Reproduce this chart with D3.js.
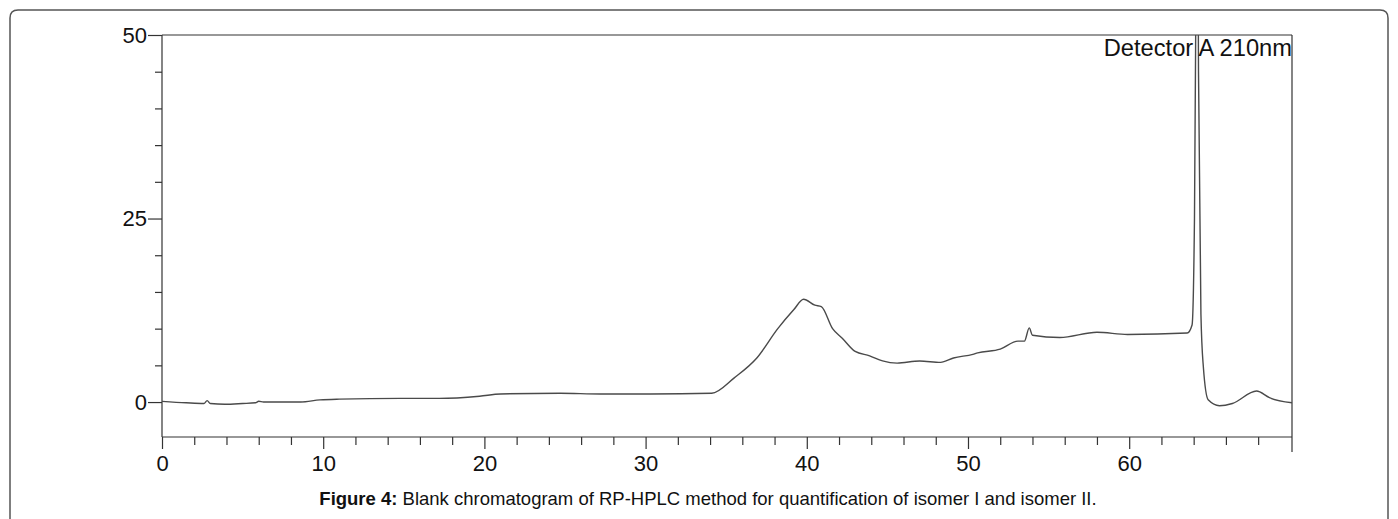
<!DOCTYPE html>
<html>
<head>
  <meta charset="utf-8">
  <title>Blank chromatogram</title>
  <script src="https://d3js.org/d3.v7.min.js"></script>
  <style>
    body {
      margin: 0;
      padding: 0;
      background: #fff;
      font-family: Arial, "Liberation Sans", sans-serif;
    }
    .tick-label {
      font-size: 22px;
      fill: #111;
    }
  </style>
</head>
<body>
<svg id="chart" width="1398" height="519"></svg>
<script>

// retention time (min) and detector signal (mAU)
var retentionTime = [0, 1.5, 2.6, 2.8, 3.0, 3.9, 5.0, 5.8, 6.0, 6.3, 8.6, 9.8, 11, 14.8, 17.2,
  19.7, 21, 24.7, 27.2, 30.3, 34.1, 35.5, 36.9, 38.2, 39.2, 39.8, 40.5, 40.9, 41.6, 42.2, 43.0, 43.9,
  44.7, 45.6, 47.0, 48.3, 49.1, 50.3, 50.6, 52, 53.1, 53.5, 53.8, 54.0, 55.7, 58.0, 59.9, 63.6,
  63.9, 64.05, 64.15, 64.22, 64.3, 64.45, 64.6, 64.9, 65.6, 66.4, 67.9, 68.7, 70.1];
var absorbance = [0.1, -0.1, -0.2, 0.2, -0.2, -0.3, -0.2, -0.1, 0.1, 0.0, 0.0, 0.3, 0.4, 0.5, 0.5,
  0.8, 1.1, 1.2, 1.1, 1.1, 1.2, 3.3, 6.0, 10.0, 12.6, 14.0, 13.2, 13.0, 10.0, 8.7, 6.9, 6.3,
  5.6, 5.3, 5.6, 5.4, 6.0, 6.5, 6.7, 7.2, 8.3, 8.3, 10.1, 9.1, 8.8, 9.5, 9.2, 9.4,
  10.5, 25, 60, 85, 45, 12, 4.8, 0.3, -0.5, -0.2, 1.5, 0.6, -0.1];

var yMajorTicks = [0, 25, 50];
var yMinorTicks = [5, 10, 15, 20, 30, 35, 40, 45];
var xMajorTicks = [0, 10, 20, 30, 40, 50, 60];
var detectorLabel = "Detector A 210nm";

var svg = d3.select("#chart");

var plotLeft = 162, plotRight = 1292, plotTop = 35, plotBottom = 437;

var x = d3.scaleLinear().domain([0, 70.1]).range([plotLeft, plotRight]);
var y = d3.scaleLinear().domain([-4.76, 50]).range([plotBottom, plotTop]);

// outer rounded frame
svg.append("path")
  .attr("d", "M10,519 L10,18 Q10,10 18,10 L1380,10 Q1388,10 1388,18 L1388,519")
  .attr("fill", "none")
  .attr("stroke", "#555")
  .attr("stroke-width", 1.5);

// top border and right border
svg.append("line")
  .attr("x1", plotLeft).attr("x2", plotRight)
  .attr("y1", plotTop).attr("y2", plotTop)
  .attr("stroke", "#333").attr("stroke-width", 1.2);
svg.append("line")
  .attr("x1", plotRight).attr("x2", plotRight)
  .attr("y1", plotTop).attr("y2", 452)
  .attr("stroke", "#333").attr("stroke-width", 1.2);

// y axis: major and minor ticks
var yAxis = d3.axisLeft(y).tickValues(yMajorTicks).tickSize(14).tickPadding(1)
  .tickFormat(d3.format("d"));
var gy = svg.append("g").attr("transform", "translate(" + plotLeft + ",0)").call(yAxis);
gy.select(".domain").remove();
gy.selectAll("line").attr("stroke", "#333").attr("stroke-width", 1.2);
gy.selectAll("text").attr("class", "tick-label").attr("font-family", "Arial, 'Liberation Sans', sans-serif");

var gyMinor = svg.append("g").attr("transform", "translate(" + plotLeft + ",0)")
  .call(d3.axisLeft(y).tickValues(yMinorTicks).tickSize(7).tickFormat(""));
gyMinor.select(".domain").remove();
gyMinor.selectAll("line").attr("stroke", "#333").attr("stroke-width", 1.2);

svg.append("line")
  .attr("x1", plotLeft).attr("x2", plotLeft)
  .attr("y1", plotTop).attr("y2", plotBottom)
  .attr("stroke", "#333").attr("stroke-width", 1.2);

// x axis: minor every 2 min, major every 10
var xMinorTicks = d3.range(0, 70, 2).filter(function(d) { return d % 10 !== 0; });
var gxMinor = svg.append("g").attr("transform", "translate(0," + plotBottom + ")")
  .call(d3.axisBottom(x).tickValues(xMinorTicks).tickSize(8).tickFormat(""));
gxMinor.select(".domain").remove();
gxMinor.selectAll("line").attr("stroke", "#333").attr("stroke-width", 1.2);

var gx = svg.append("g").attr("transform", "translate(0," + plotBottom + ")")
  .call(d3.axisBottom(x).tickValues(xMajorTicks).tickSize(12).tickPadding(6)
    .tickFormat(d3.format("d")));
gx.select(".domain").remove();
gx.selectAll("line").attr("stroke", "#333").attr("stroke-width", 1.2);
gx.selectAll("text").attr("class", "tick-label").attr("font-family", "Arial, 'Liberation Sans', sans-serif");

svg.append("line")
  .attr("x1", plotLeft).attr("x2", plotRight)
  .attr("y1", plotBottom).attr("y2", plotBottom)
  .attr("stroke", "#333").attr("stroke-width", 1.2);

// trace
svg.append("clipPath").attr("id", "plot-clip")
  .append("rect")
  .attr("x", plotLeft).attr("y", plotTop)
  .attr("width", plotRight - plotLeft).attr("height", plotBottom - plotTop);

var points = retentionTime.map(function(t, i) { return [t, absorbance[i]]; });

var line = d3.line()
  .x(function(d) { return x(d[0]); })
  .y(function(d) { return y(d[1]); })
  .curve(d3.curveMonotoneX);

svg.append("path")
  .datum(points)
  .attr("clip-path", "url(#plot-clip)")
  .attr("fill", "none")
  .attr("stroke", "#4a4a4a")
  .attr("stroke-width", 1.4)
  .attr("d", line);

// detector label
svg.append("text")
  .attr("x", plotRight)
  .attr("y", 56)
  .attr("text-anchor", "end")
  .attr("font-size", 23.7)
  .attr("fill", "#111")
  .text(detectorLabel);

// caption
var caption = svg.append("text")
  .attr("x", 708)
  .attr("y", 505)
  .attr("text-anchor", "middle")
  .attr("font-size", 18.5)
  .attr("fill", "#111");
caption.append("tspan").attr("font-weight", "bold").text("Figure 4:");
caption.append("tspan").text(" Blank chromatogram of RP-HPLC method for quantification of isomer I and isomer II.");

</script>
</body>
</html>
